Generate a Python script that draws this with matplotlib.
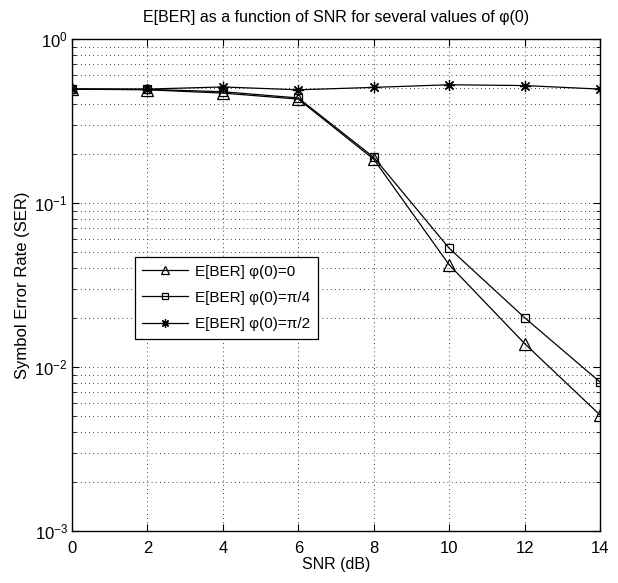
import matplotlib
matplotlib.use("Agg")
import matplotlib.pyplot as plt
from matplotlib.ticker import LogLocator, NullFormatter

plt.rcParams['font.family'] = ['Liberation Sans', 'DejaVu Sans']
plt.rcParams['mathtext.fontset'] = 'custom'
plt.rcParams['mathtext.rm'] = 'Liberation Sans'
plt.rcParams['mathtext.it'] = 'Liberation Sans:italic'

snr = [0, 2, 4, 6, 8, 10, 12, 14]
ser_phi0 = [0.495, 0.490, 0.468, 0.430, 0.185, 0.042, 0.0139, 0.0051]
ser_phi_pi4 = [0.495, 0.493, 0.477, 0.437, 0.190, 0.053, 0.020, 0.0081]
ser_phi_pi2 = [0.495, 0.495, 0.510, 0.490, 0.507, 0.526, 0.520, 0.495]
labels = ['E[BER] φ(0)=0', 'E[BER] φ(0)=π/4', 'E[BER] φ(0)=π/2']
title = 'E[BER] as a function of SNR for several values of φ(0)'
xlabel = 'SNR (dB)'
ylabel = 'Symbol Error Rate (SER)'

fig = plt.figure(figsize=(6.18, 5.83), dpi=100)
ax = fig.add_axes([72/618, 1-531/583, 528/618, 492/583])

ax.semilogy(snr, ser_phi0, color='black', lw=0.9, marker='^', ms=8,
            mfc='none', mec='black', mew=0.9, label=labels[0])
ax.semilogy(snr, ser_phi_pi4, color='black', lw=0.9, marker='s', ms=6,
            mfc='none', mec='black', mew=0.9, label=labels[1])
ax.semilogy(snr, ser_phi_pi2, color='black', lw=0.9, marker=(8, 2, 0), ms=8,
            mfc='none', mec='black', mew=0.9, label=labels[2])

ax.set_xlim(0, 14)
ax.set_ylim(1e-3, 1)
ax.set_xticks(range(0, 15, 2))
ax.yaxis.set_major_locator(LogLocator(base=10, numticks=10))
ax.yaxis.set_minor_locator(LogLocator(base=10, subs=range(2, 10), numticks=20))
ax.yaxis.set_minor_formatter(NullFormatter())

ax.grid(True, which='major', axis='both', color='black', linestyle=(0, (1, 4)), lw=0.6)
ax.grid(True, which='minor', axis='y', color='black', linestyle=(0, (1, 4)), lw=0.6)

ax.tick_params(which='both', direction='in', top=True, right=True, labelsize=12)
ax.tick_params(which='major', length=5)
ax.tick_params(which='minor', length=3)
ax.tick_params(axis='x', which='major', pad=7)
ax.tick_params(axis='y', which='major', pad=3)
for s in ax.spines.values():
    s.set_linewidth(1.0)

ax.set_title(title, fontsize=11.5, pad=12)
ax.set_xlabel(xlabel, fontsize=11.5, labelpad=1)
ax.set_ylabel(ylabel, fontsize=12, labelpad=3)

leg = ax.legend(loc='upper left', bbox_to_anchor=(0.119, 0.557), fontsize=11,
                handlelength=3.0, handletextpad=0.45, fancybox=False,
                edgecolor='black', framealpha=1, borderpad=0.5,
                labelspacing=0.8, markerscale=0.75, borderaxespad=0)
leg.get_frame().set_linewidth(0.9)

fig.savefig('out.png', dpi=100)
